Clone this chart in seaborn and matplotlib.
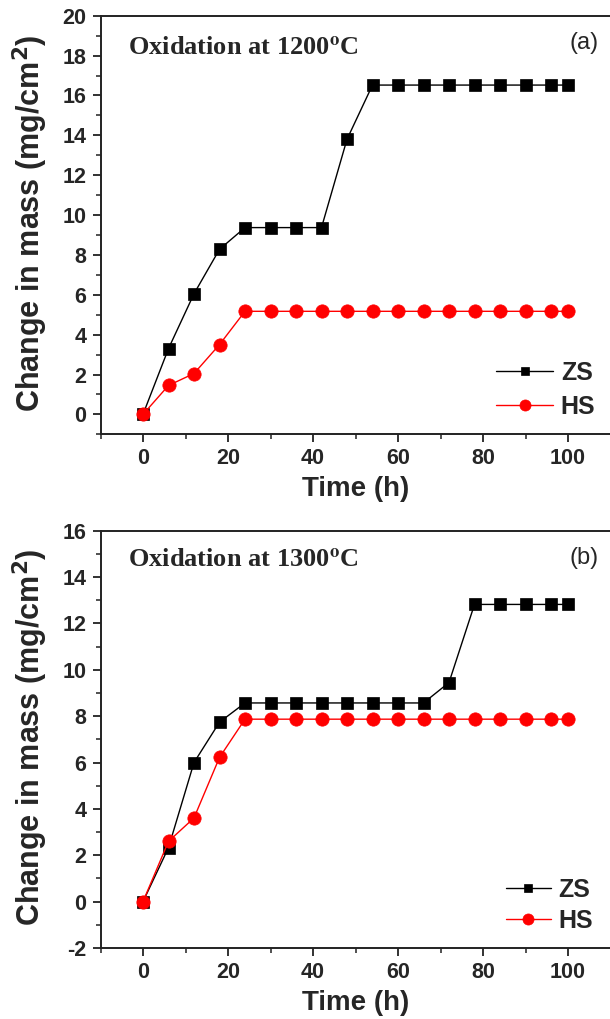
import matplotlib
matplotlib.use("Agg")
import matplotlib.pyplot as plt
import seaborn as sns
import pandas as pd
from matplotlib.ticker import MultipleLocator

# Oxidation time (h)
time_h = [0, 6, 12, 18, 24, 30, 36, 42, 48, 54, 60, 66, 72, 78, 84, 90, 96, 100]

# Mass gain (mg/cm^2) at 1200 C
zs_1200 = [0, 3.30, 6.05, 8.28, 9.37, 9.37, 9.37, 9.37, 13.80,
           16.52, 16.52, 16.52, 16.52, 16.52, 16.52, 16.52, 16.52, 16.52]
hs_1200 = [0, 1.45, 2.05, 3.50, 5.17, 5.17, 5.17, 5.17, 5.17,
           5.17, 5.17, 5.17, 5.17, 5.17, 5.17, 5.17, 5.17, 5.17]

# Mass gain (mg/cm^2) at 1300 C
zs_1300 = [0, 2.33, 6.00, 7.74, 8.57, 8.57, 8.57, 8.57, 8.57,
           8.57, 8.57, 8.57, 9.45, 12.82, 12.82, 12.82, 12.82, 12.82]
hs_1300 = [0, 2.60, 3.61, 6.22, 7.87, 7.87, 7.87, 7.87, 7.87,
           7.87, 7.87, 7.87, 7.87, 7.87, 7.87, 7.87, 7.87, 7.87]

series_names = ["ZS", "HS"]
panel_titles = ["Oxidation at 1200$^{\\mathbf{o}}$C", "Oxidation at 1300$^{\\mathbf{o}}$C"]
panel_tags = ["(a)", "(b)"]
x_ticks = [0, 20, 40, 60, 80, 100]
y_ticks_top = [0, 2, 4, 6, 8, 10, 12, 14, 16, 18, 20]
y_ticks_bottom = [-2, 0, 2, 4, 6, 8, 10, 12, 14, 16]

sns.set_theme(style="ticks")
plt.rcParams["font.family"] = ["Liberation Sans", "DejaVu Sans"]
plt.rcParams["font.weight"] = "bold"
plt.rcParams["axes.labelweight"] = "bold"
plt.rcParams["axes.linewidth"] = 1.4
plt.rcParams["axes.unicode_minus"] = False

W, H = 610, 1019
fig = plt.figure(figsize=(W / 100, H / 100), dpi=100)
fig.patch.set_facecolor("white")

# axes rectangles in pixels: left, top, width, height
rects = [(100.5, 15.7, 510.0, 418.6), (100.5, 530.7, 510.0, 417.3)]

panels = [
    dict(zs=zs_1200, hs=hs_1200, ylim=(-1, 20), yt=y_ticks_top,
         title_y=0.922, tag_y=0.934,
         leg=dict(anchor=(0.775, 0.106), hl=2.3, ls=0.42)),
    dict(zs=zs_1300, hs=hs_1300, ylim=(-2, 16), yt=y_ticks_bottom,
         title_y=0.929, tag_y=0.935,
         leg=dict(anchor=(0.795, 0.102), hl=1.8, ls=0.30)),
]

for i, (p, r) in enumerate(zip(panels, rects)):
    l, t, w, h = r
    ax = fig.add_axes([l / W, (H - t - h) / H, w / W, h / H])
    ax.set_facecolor("white")

    df = pd.DataFrame({"time": time_h, "ZS": p["zs"], "HS": p["hs"]})
    sns.lineplot(data=df, x="time", y="ZS", ax=ax, color="black", marker="s",
                 markersize=8.8, markeredgecolor="black", markeredgewidth=0.5,
                 linewidth=1.0, label=series_names[0], sort=False, errorbar=None)
    sns.lineplot(data=df, x="time", y="HS", ax=ax, color="#ff0000", marker="o",
                 markersize=9.6, markeredgecolor="#ff0000", markeredgewidth=0.5,
                 linewidth=1.0, label=series_names[1], sort=False, errorbar=None)

    ax.set_xlim(-10, 110)
    ax.set_ylim(*p["ylim"])
    ax.set_xticks(x_ticks)
    ax.set_yticks(p["yt"])
    ax.xaxis.set_minor_locator(MultipleLocator(10))
    ax.yaxis.set_minor_locator(MultipleLocator(1))
    ax.tick_params(axis="both", which="major", direction="out", length=6,
                   width=1.3, labelsize=15.5, pad=4, top=False, right=False,
                   color="#222222")
    ax.tick_params(axis="both", which="minor", direction="out", length=3.5,
                   width=1.1, top=False, right=False, color="#222222")
    for lab in ax.get_xticklabels() + ax.get_yticklabels():
        lab.set_fontweight("bold")

    for side in ["top", "left", "bottom"]:
        ax.spines[side].set_visible(True)
        ax.spines[side].set_color("#222222")
    ax.spines["right"].set_visible(False)

    ax.set_xlabel("Time (h)", fontsize=20, fontweight="bold")
    ax.set_ylabel("Change in mass (mg/cm$^{\\mathbf{2}}$)", fontsize=22,
                  fontweight="bold")
    ax.xaxis.set_label_coords(0.5, -55 / h)
    ax.xaxis.label.set_va("center")
    ax.yaxis.set_label_coords(-70 / w, 0.505)
    ax.yaxis.label.set_va("center")

    ax.text(0.054, p["title_y"], panel_titles[i], transform=ax.transAxes,
            fontsize=19, fontweight="bold", family=["Liberation Serif"],
            math_fontfamily="stix", ha="left", va="center")
    ax.text(0.948, p["tag_y"], panel_tags[i], transform=ax.transAxes,
            fontsize=17, fontweight="normal", ha="center", va="center")

    lg = p["leg"]
    leg = ax.legend(loc="center left", bbox_to_anchor=lg["anchor"],
                    frameon=False, prop=dict(size=18, weight="bold"),
                    handlelength=lg["hl"], handletextpad=0.3,
                    labelspacing=lg["ls"], borderpad=0, borderaxespad=0)
    hl = leg.legend_handles
    hl[0].set_markersize(5.2)
    hl[1].set_markersize(8.0)

fig.savefig("out.png", dpi=100, facecolor="white")
